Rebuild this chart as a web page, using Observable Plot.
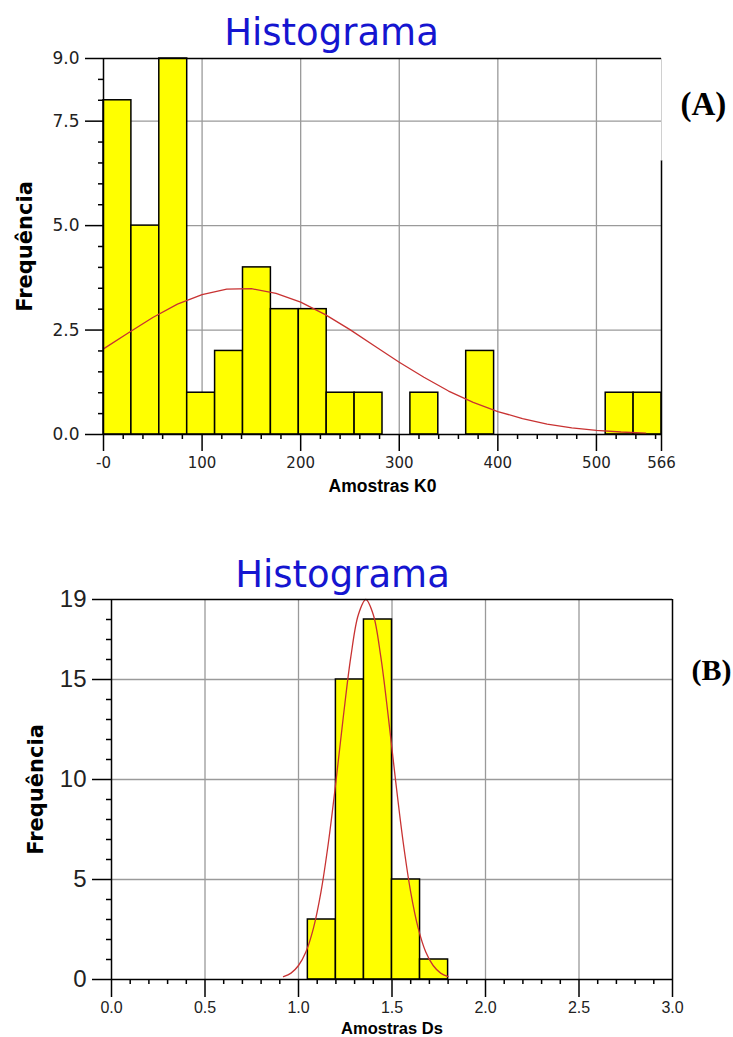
<!DOCTYPE html>
<html><head><meta charset="utf-8">
<script src="https://cdn.jsdelivr.net/npm/d3@7"></script>
<script src="https://cdn.jsdelivr.net/npm/@observablehq/plot@0.6"></script>
<style>
html,body{margin:0;padding:0;background:#fff;}
#wrap{position:relative;width:733px;height:1037px;overflow:hidden;background:#fff;}
#a{position:absolute;left:0;top:0;}
#b{position:absolute;left:0;top:500px;}
</style></head><body><div id="wrap"><div id="a"></div><div id="b"></div></div>
<script>
// ---------- Panel A data ----------
const binEdgesA = [0,28.3,56.6,84.9,113.2,141.5,169.8,198.1,226.4,254.7,283,311.3,339.6,367.9,396.2,424.5,452.8,481.1,509.4,537.7,566];
const countsA = [8,5,9,1,2,4,3,3,1,1,0,1,0,2,0,0,0,0,1,1];
const curveXA = [0,25,50,75,100,125,150,175,200,225,250,275,300,325,350,375,400,425,450,475,500,525,550];
const curveYA = [2.05,2.43,2.80,3.12,3.35,3.48,3.49,3.38,3.17,2.87,2.51,2.12,1.73,1.37,1.04,0.77,0.55,0.38,0.25,0.16,0.10,0.06,0.035];
const xTicksA = [0,100,200,300,400,500,566];
const xTickLabelsA = ["-0","100","200","300","400","500","566"];
const yTicksA = [0,2.5,5,7.5,9];
const yTickLabelsA = ["0.0","2.5","5.0","7.5","9.0"];
const gridXA = [100,200,300,400,500];
const gridYA = [2.5,5,7.5];
const xMinorA = [20,40,60,80,120,140,160,180,220,240,260,280,320,340,360,380,420,440,460,480,520,540,560];
const yMinorA = [0.5,1,1.5,2,3,3.5,4,4.5,5.5,6,6.5,7,8,8.5];

// ---------- Panel B data ----------
const binEdgesB = [1.05,1.20,1.35,1.50,1.65,1.80];
const countsB = [3,15,18,5,1];
const curveXB = [0.92,0.96,1.00,1.04,1.08,1.12,1.16,1.20,1.24,1.28,1.32,1.36,1.40,1.44,1.48,1.52,1.56,1.60,1.64,1.68,1.72,1.76,1.80];
const curveYB = [0.14,0.32,0.70,1.39,2.57,4.37,6.85,9.88,13.16,16.14,18.24,19.0,18.24,16.14,13.16,9.88,6.85,4.37,2.57,1.39,0.70,0.32,0.14];
const xTicksB = [0,0.5,1,1.5,2,2.5,3];
const xTickLabelsB = ["0.0","0.5","1.0","1.5","2.0","2.5","3.0"];
const yTicksB = [0,5,10,15,19];
const yTickLabelsB = ["0","5","10","15","19"];
const gridXB = [0.5,1,1.5,2,2.5];
const gridYB = [5,10,15];
const xMinorB = [0.1,0.2,0.3,0.4,0.6,0.7,0.8,0.9,1.1,1.2,1.3,1.4,1.6,1.7,1.8,1.9,2.1,2.2,2.3,2.4,2.6,2.7,2.8,2.9];
const yMinorB = [1,2,3,4,6,7,8,9,11,12,13,14,16,17,18];

const titleText = "Histograma";
const yLabelText = "Frequência";
const xLabelA = "Amostras K0";
const xLabelB = "Amostras Ds";

const sans = "'Liberation Sans', Arial, Helvetica, sans-serif";
const wide = "'DejaVu Sans', Verdana, sans-serif";
const serif = "'Liberation Serif', 'Times New Roman', serif";
const gridStyle = {stroke: "#9a9a9a", strokeOpacity: 1, strokeWidth: 1.3};
const blk = {stroke: "#000", strokeWidth: 1.5};

const barsA = countsA.map((c, i) => ({x1: binEdgesA[i], x2: binEdgesA[i + 1], count: c})).filter(d => d.count > 0);
const curveA = curveXA.map((x, i) => ({x, y: curveYA[i]}));
const barsB = countsB.map((c, i) => ({x1: binEdgesB[i], x2: binEdgesB[i + 1], count: c})).filter(d => d.count > 0);
const curveB = curveXB.map((x, i) => ({x, y: curveYB[i]}));

// Panel A geometry
const WA = 733, HA = 500, mlA = 103, mrA = 72, mtA = 58, mbA = 66;
const fwA = WA - mlA - mrA, fhA = HA - mtA - mbA;

const chartA = Plot.plot({
  width: WA, height: HA,
  marginLeft: mlA, marginRight: mrA, marginTop: mtA, marginBottom: mbA,
  x: {domain: [0, 566], label: null},
  y: {domain: [0, 9], label: null},
  style: {fontFamily: sans, background: "#fff", color: "#000", overflow: "visible"},
  marks: [
    Plot.gridX(gridXA, gridStyle),
    Plot.gridY(gridYA, gridStyle),
    Plot.rectY(barsA, {x1: "x1", x2: "x2", y: "count", fill: "#ffff00", ...blk}),
    Plot.line(curveA, {x: "x", y: "y", stroke: "#c83232", strokeWidth: 1.3}),
    Plot.ruleY([9], blk),
    Plot.ruleX([566], {y1: 0, y2: 6.55, ...blk}),
    Plot.ruleX([566], {y1: 6.55, y2: 9, stroke: "#d0d0d0", strokeWidth: 1}),
    Plot.ruleX([0], blk),
    Plot.ruleY([0], blk),
    Plot.ruleX(xMinorA, {insetTop: fhA, insetBottom: -5, ...blk}),
    Plot.ruleY(yMinorA, {insetRight: fwA, insetLeft: -5, ...blk}),
    Plot.axisX(xTicksA, {tickSize: 17, tickPadding: 6, tickFormat: d => xTickLabelsA[xTicksA.indexOf(d)], fontSize: 15, fontFamily: wide, fill: "#222", strokeWidth: 1.5}),
    Plot.axisY(yTicksA, {tickSize: 18, tickPadding: 6, tickFormat: d => yTickLabelsA[yTicksA.indexOf(d)], fontSize: 17, fontFamily: wide, fill: "#222", strokeWidth: 1.5}),
    Plot.text([titleText], {text: d => d, frameAnchor: "top", dx: -51, dy: -14, lineAnchor: "bottom", fontSize: 37, fontFamily: wide, fill: "#1515d0"}),
    Plot.text([yLabelText], {text: d => d, frameAnchor: "left", textAnchor: "middle", rotate: -90, dx: -72, lineAnchor: "bottom", fontSize: 21, fontWeight: "bold", fontFamily: wide}),
    Plot.text([xLabelA], {text: d => d, frameAnchor: "bottom", dy: 57, lineAnchor: "bottom", fontSize: 17.5, fontWeight: "bold"}),
    Plot.text(["(A)"], {text: d => d, frameAnchor: "top-right", dx: 19, dy: 56, textAnchor: "start", lineAnchor: "bottom", fontSize: 33, fontWeight: "bold", fontFamily: serif})
  ]
});
document.getElementById("a").append(chartA);

// Panel B geometry
const WB = 733, HB = 537, mlB = 111, mrB = 61, mtB = 99, mbB = 58;
const fwB = WB - mlB - mrB, fhB = HB - mtB - mbB;

const chartB = Plot.plot({
  width: WB, height: HB,
  marginLeft: mlB, marginRight: mrB, marginTop: mtB, marginBottom: mbB,
  x: {domain: [0, 3], label: null},
  y: {domain: [0, 19], label: null},
  style: {fontFamily: sans, background: "#fff", color: "#000", overflow: "visible"},
  marks: [
    Plot.gridX(gridXB, gridStyle),
    Plot.gridY(gridYB, gridStyle),
    Plot.rectY(barsB, {x1: "x1", x2: "x2", y: "count", fill: "#ffff00", ...blk}),
    Plot.line(curveB, {x: "x", y: "y", stroke: "#c83232", strokeWidth: 1.3, curve: "catmull-rom"}),
    Plot.ruleY([19], blk),
    Plot.ruleX([3], blk),
    Plot.ruleX([0], blk),
    Plot.ruleY([0], blk),
    Plot.ruleX(xMinorB, {insetTop: fhB, insetBottom: -5, ...blk}),
    Plot.ruleY(yMinorB, {insetRight: fwB, insetLeft: -5, ...blk}),
    Plot.axisX(xTicksB, {tickSize: 18, tickPadding: 4, tickFormat: d => xTickLabelsB[xTicksB.indexOf(d)], fontSize: 16, fill: "#222", strokeWidth: 1.5}),
    Plot.axisY(yTicksB, {tickSize: 19, tickPadding: 6, tickFormat: d => yTickLabelsB[yTicksB.indexOf(d)], fontSize: 24, fill: "#222", strokeWidth: 1.5}),
    Plot.text([titleText], {text: d => d, frameAnchor: "top", dx: -49.5, dy: -13, lineAnchor: "bottom", fontSize: 37, fontFamily: wide, fill: "#1515d0"}),
    Plot.text([yLabelText], {text: d => d, frameAnchor: "left", textAnchor: "middle", rotate: -90, dx: -69, lineAnchor: "bottom", fontSize: 21, fontWeight: "bold", fontFamily: wide}),
    Plot.text([xLabelB], {text: d => d, frameAnchor: "bottom", dy: 54, lineAnchor: "bottom", fontSize: 16.5, fontWeight: "bold"}),
    Plot.text(["(B)"], {text: d => d, frameAnchor: "top-right", dx: 19, dy: 80, textAnchor: "start", lineAnchor: "bottom", fontSize: 30, fontWeight: "bold", fontFamily: serif})
  ]
});
document.getElementById("b").append(chartB);
</script></body></html>
